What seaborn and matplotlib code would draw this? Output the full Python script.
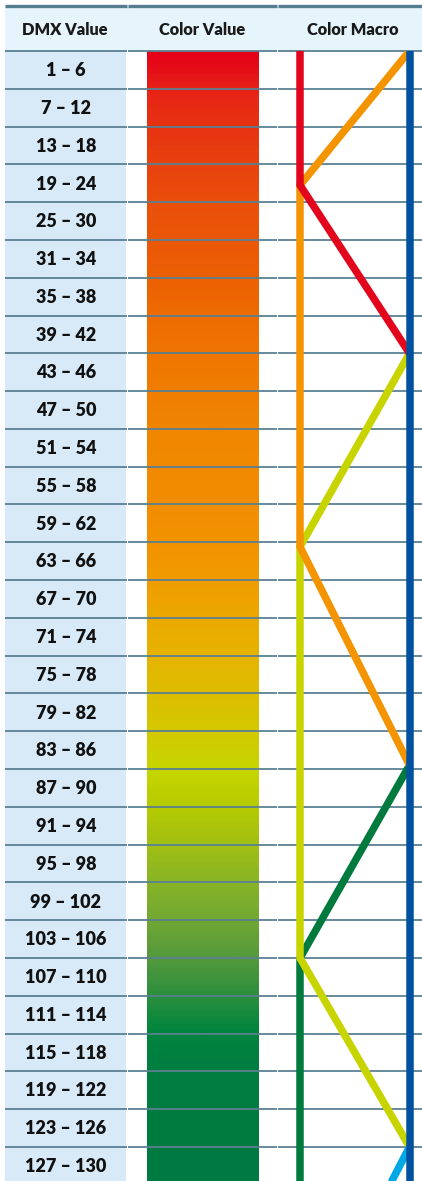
import numpy as np
import pandas as pd
import matplotlib
matplotlib.use("Agg")
import matplotlib.pyplot as plt
from matplotlib.colors import LinearSegmentedColormap
from matplotlib.patches import Rectangle
import seaborn as sns

# ---------------- data ----------------
headers = ["DMX Value", "Color Value", "Color Macro"]
dmx_labels = ["1 – 6", "7 – 12", "13 – 18", "19 – 24", "25 – 30", "31 – 34",
              "35 – 38", "39 – 42", "43 – 46", "47 – 50", "51 – 54", "55 – 58",
              "59 – 62", "63 – 66", "67 – 70", "71 – 74", "75 – 78", "79 – 82",
              "83 – 86", "87 – 90", "91 – 94", "95 – 98", "99 – 102", "103 – 106",
              "107 – 110", "111 – 114", "115 – 118", "119 – 122", "123 – 126",
              "127 – 130"]

# colour value gradient (position in rows, colour)
grad_pos = [0.0, 1.0, 2.5, 4.0, 6.0, 8.0, 10.0, 12.5, 13.5, 15.0, 16.5, 18.0,
            19.0, 20.0, 21.0, 22.0, 23.0, 24.0, 25.0, 25.5, 26.0, 27.0, 30.0]
grad_colors = ["#e50019", "#e72416", "#e83c10", "#ea4f0b", "#ec6103", "#ef7600",
               "#f08500", "#f29000", "#f19600", "#eca900", "#e2b800", "#d4c800",
               "#c6d600", "#b6cb00", "#a2c014", "#88b426", "#72a832", "#559a3c",
               "#2e8f3e", "#168b3d", "#00853e", "#007d40", "#007a41"]

# colour macro paths: lane (0 = left, 1 = right) and row position
macro_names = ["green", "yellowgreen", "orange", "red", "cyan", "blue"]
macro_colors = {"red": "#e3051b", "orange": "#f39400", "yellowgreen": "#c8d400",
                "green": "#007a3d", "cyan": "#00a9e6", "blue": "#0051a0"}
macro_lane = {"red": [0, 0, 1],
              "orange": [1, 0, 0, 1],
              "yellowgreen": [1, 0, 0, 1],
              "green": [1, 0, 0],
              "cyan": [1, 0],
              "blue": [1, 1]}
macro_row = {"red": [0.0, 3.55, 8.0],
             "orange": [0.0, 3.55, 13.12, 18.9],
             "yellowgreen": [8.0, 13.12, 24.0, 29.0],
             "green": [18.9, 24.0, 31.0],
             "cyan": [29.0, 34.6],
             "blue": [0.0, 31.0]}

# ---------------- layout ----------------
W, H = 422, 1181
ROW_PX = 37.79
TOP_PX = 51.0          # header bottom in pixels
def px2row(p):
    return (p - TOP_PX) / ROW_PX

y_top = px2row(0)
y_bot = px2row(H)
n_rows = len(dmx_labels)

LANE_X = {0: 300.0, 1: 409.5}
col1 = (5, 126)
col2 = (147, 259)

sns.set_theme(style="white")
plt.rcParams['font.family'] = ['Lato', 'DejaVu Sans']

fig = plt.figure(figsize=(W / 100, H / 100), dpi=100)
ax = fig.add_axes([0, 0, 1, 1])
ax.set_xlim(0, W)
ax.set_ylim(y_bot, y_top)
ax.axis("off")

# header background
hdr_top = px2row(6)
ax.add_patch(Rectangle((5, hdr_top), W - 5, 0 - hdr_top, color="#e6f4fc", zorder=0, lw=0))
# left column background
ax.add_patch(Rectangle((col1[0], 0), col1[1] - col1[0], 40, color="#d8eaf7", zorder=0, lw=0))

# gradient
cmap = LinearSegmentedColormap.from_list(
    "cv", list(zip(np.array(grad_pos) / grad_pos[-1], grad_colors)))
grad = np.linspace(0, 1, 600).reshape(-1, 1)
ax.imshow(grad, cmap=cmap, aspect="auto", interpolation="bilinear",
          extent=[col2[0], col2[1], grad_pos[-1], 0], zorder=1)
ax.set_xlim(0, W)
ax.set_ylim(y_bot, y_top)

# horizontal row lines
seg_x = [(5, 126.5), (127.5, 277), (278, W)]
for r in range(n_rows):
    for a, b in seg_x:
        ax.plot([a, b], [r, r], color="#5a8092", lw=1.3, zorder=2, solid_capstyle="butt")
for a, b in seg_x:
    ax.plot([a, b], [px2row(5.5), px2row(5.5)], color="#557d90", lw=2.4, zorder=2,
            solid_capstyle="butt")

# macro lines
clip = Rectangle((0, 0), W, 40, transform=ax.transData)
rows = []
for name in macro_names:
    for i, (ln, rw) in enumerate(zip(macro_lane[name], macro_row[name])):
        rows.append({"name": name, "order": i, "x": LANE_X[ln], "y": rw})
df = pd.DataFrame(rows)
for name in macro_names:
    sub = df[df["name"] == name]
    sns.lineplot(data=sub, x="x", y="y", sort=False, estimator=None, ax=ax,
                 color=macro_colors[name], lw=5.4, zorder=3, legend=False)
for ln in ax.lines[-len(macro_names):]:
    ln.set_clip_path(clip)
    ln.set_solid_joinstyle("miter")
    ln.set_solid_capstyle("butt")
ax.set_xlim(0, W)
ax.set_ylim(y_bot, y_top)
ax.set_xlabel("")
ax.set_ylabel("")
ax.axis("off")

# header texts
hdr_y = px2row(30)
for txt, xc in zip(headers, [65, 202, 353]):
    ax.text(xc, hdr_y, txt, ha="center", va="center", fontsize=11.8,
            fontweight="heavy", color="#1a1a1a", zorder=5)

# row labels
for i, lab in enumerate(dmx_labels):
    ax.text(66, i + 0.52, lab, ha="center", va="center", fontsize=13.0,
            fontweight="heavy", color="#111111", zorder=5)

fig.savefig("out.png", dpi=100)
